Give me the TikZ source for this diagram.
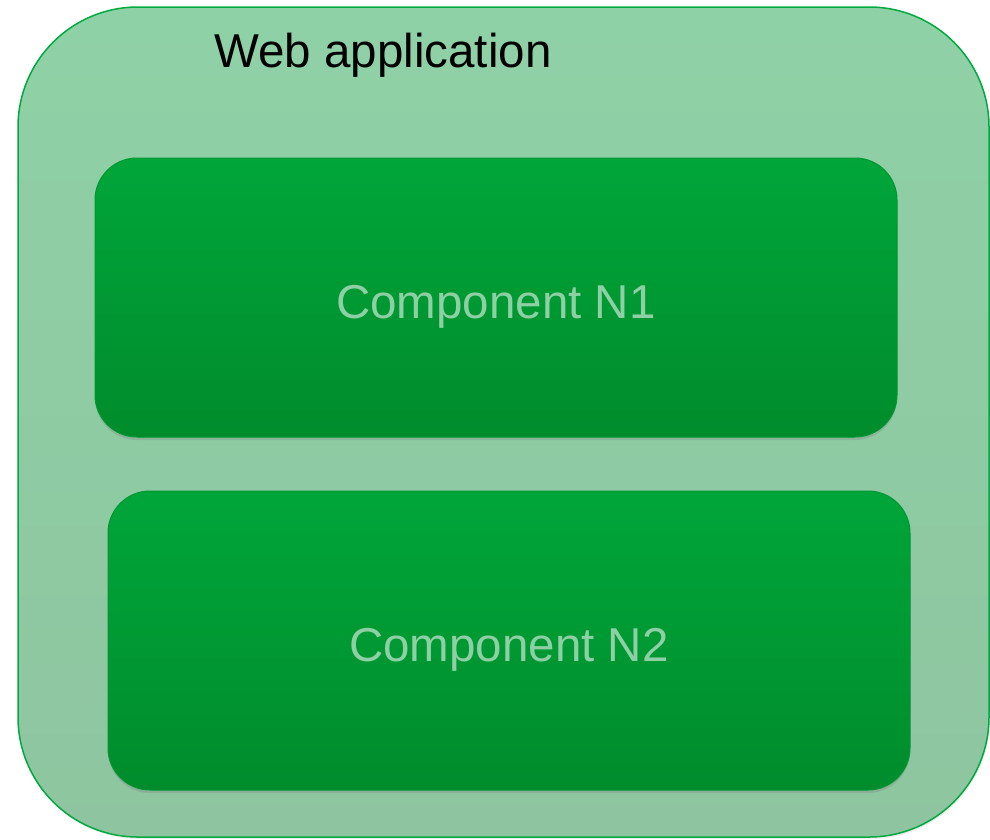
\documentclass[tikz,border=0pt]{standalone}
\usepackage{fontspec}
\setmainfont{Liberation Sans}
\usetikzlibrary{shadows}
\definecolor{outerTop}{RGB}{143,209,166}
\definecolor{outerBot}{RGB}{142,197,160}
\definecolor{outerLine}{RGB}{0,170,64}
\definecolor{innerTop}{RGB}{0,166,58}
\definecolor{innerBot}{RGB}{0,140,44}
\definecolor{innerLine}{RGB}{0,150,50}
\definecolor{labelGreen}{RGB}{142,208,164}
\tikzset{
  outerbox/.style={rectangle, rounded corners=120pt, draw=outerLine, line width=1.5pt,
    top color=outerTop, bottom color=outerBot,
    drop shadow={shadow xshift=1pt, shadow yshift=-2pt, opacity=0.15}},
  compbox/.style={rectangle, rounded corners=42pt, draw=innerLine, line width=1pt,
    top color=innerTop, bottom color=innerBot,
    drop shadow={shadow xshift=0pt, shadow yshift=-3pt, opacity=0.3}},
  titletext/.style={font=\fontsize{47.5}{50}\selectfont, text=black, anchor=base, inner sep=0pt},
  comptext/.style={font=\fontsize{47.5}{50}\selectfont, text=labelGreen, anchor=base, inner sep=0pt}
}
\begin{document}
\begin{tikzpicture}[x=1pt,y=-1pt]
\useasboundingbox (0,0) rectangle (990,839);
\path[outerbox] (18,7) rectangle (989,837);
\node[titletext] (title) at (383,67) {Web application};
\path[compbox] (95,158) rectangle (897,437);
\coordinate (c1) at (496,318);
\node[comptext] (n1) at (c1) {Component N1};
\path[compbox] (108,491) rectangle (910,790);
\coordinate (c2) at (509,661);
\node[comptext] (n2) at (c2) {Component N2};
\end{tikzpicture}
\end{document}
